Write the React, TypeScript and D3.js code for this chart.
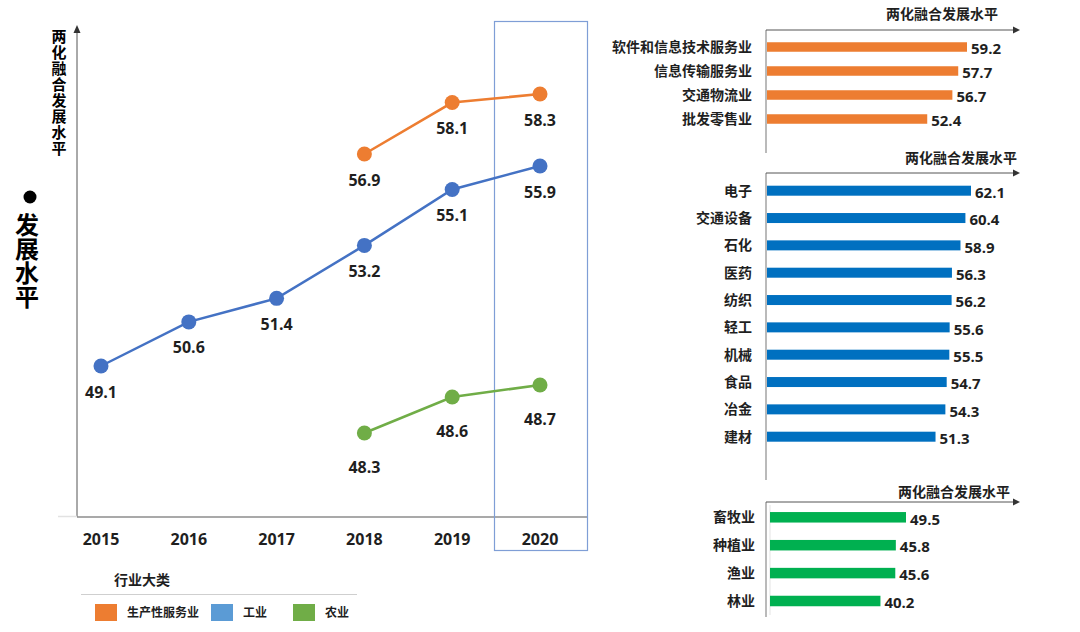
import React from "react";
import * as d3 from "d3";

// ---- Left chart data ----
const years = ["2015", "2016", "2017", "2018", "2019", "2020"];
const industryYears = ["2015", "2016", "2017", "2018", "2019", "2020"];
const industryValues = [49.1, 50.6, 51.4, 53.2, 55.1, 55.9];
const laterYears = ["2018", "2019", "2020"];
const serviceValues = [56.9, 58.1, 58.3];
const agriValues = [48.3, 48.6, 48.7];
const legendItems = ["生产性服务业", "工业", "农业"];
const yAxisTitle = "两化融合发展水平";
const sideTitle = "发展水平";
const legendTitle = "行业大类";

// ---- Right bar charts data ----
const barTitle = "两化融合发展水平";
const serviceCats = ["软件和信息技术服务业", "信息传输服务业", "交通物流业", "批发零售业"];
const serviceBarValues = [59.2, 57.7, 56.7, 52.4];
const industryCats = ["电子", "交通设备", "石化", "医药", "纺织", "轻工", "机械", "食品", "冶金", "建材"];
const industryBarValues = [62.1, 60.4, 58.9, 56.3, 56.2, 55.6, 55.5, 54.7, 54.3, 51.3];
const agriCats = ["畜牧业", "种植业", "渔业", "林业"];
const agriBarValues = [49.5, 45.8, 45.6, 40.2];

const ORANGE = "#ED7D31";
const BLUE = "#4472C4";
const GREEN = "#70AD47";
const FONT = "'Open Sans', 'Noto Sans CJK SC', sans-serif";
const TXT = "#1f1f1f";

type Pt = { year: string; value: number };

function zip(ys: string[], vs: number[]): Pt[] {
  return ys.map((y, i) => ({ year: y, value: vs[i] }));
}

function BarPanel(props: {
  cats: string[];
  values: number[];
  color: string;
  domain: [number, number];
  xRange: [number, number];
  yRange: [number, number];
  barH: number;
  axisX: number;
  axisTop: number;
  axisBottom: number;
  labelRight: number;
  titleX: number;
  titleY: number;
  innerLine?: boolean;
}) {
  const x = d3.scaleLinear().domain(props.domain).range(props.xRange);
  const y = d3.scalePoint<string>().domain(props.cats).range(props.yRange);
  const arrowEnd = 1020;
  return (
    <g>
      <text x={props.titleX} y={props.titleY} textAnchor="middle" fontSize={14} fontWeight="bold" fill={TXT} fontFamily={FONT}>
        {barTitle}
      </text>
      <line x1={props.axisX} x2={props.axisX} y1={props.axisTop} y2={props.axisBottom} stroke="#8c8c8c" strokeWidth={1.2} />
      <line x1={props.axisX} x2={arrowEnd - 6} y1={props.axisTop} y2={props.axisTop} stroke="#555" strokeWidth={1} />
      <path d={`M${arrowEnd},${props.axisTop} L${arrowEnd - 7},${props.axisTop - 3.5} L${arrowEnd - 7},${props.axisTop + 3.5} Z`} fill="#333" />
      {props.innerLine && (
        <line x1={props.xRange[0]} x2={props.xRange[0]} y1={props.axisTop + 3} y2={props.axisBottom - 2} stroke="#e3e3e3" strokeWidth={1} />
      )}
      {props.cats.map((c, i) => {
        const cy = y(c) as number;
        const v = props.values[i];
        return (
          <g key={c}>
            <text x={props.labelRight} y={cy} dy="0.35em" textAnchor="end" fontSize={14} fontWeight="bold" fill={TXT} fontFamily={FONT}>
              {c}
            </text>
            <rect x={x(props.domain[0])} y={cy - props.barH / 2} width={x(v) - x(props.domain[0])} height={props.barH} fill={props.color} />
            <text x={x(v) + 4} y={cy + 2} dy="0.35em" fontSize={15} fontWeight="bold" fill={TXT} fontFamily={FONT}>
              {v.toFixed(1)}
            </text>
          </g>
        );
      })}
    </g>
  );
}

export default function App() {
  const x = d3.scalePoint<string>().domain(years).range([101, 540]);
  // Each series is drawn against its own value scale, as in the original infographic.
  const yService = d3.scaleLinear().domain([56.9, 58.3]).range([154, 94]);
  const yIndustry = d3.scaleLinear().domain([49.1, 55.9]).range([366, 166]);
  const yAgri = d3.scaleLinear().domain([48.3, 48.7]).range([433, 385]);

  const series = [
    { name: legendItems[0], color: ORANGE, data: zip(laterYears, serviceValues), y: yService, labelOffset: 26 },
    { name: legendItems[1], color: BLUE, data: zip(industryYears, industryValues), y: yIndustry, labelOffset: 26 },
    { name: legendItems[2], color: GREEN, data: zip(laterYears, agriValues), y: yAgri, labelOffset: 34 },
  ];
  const legendColors = [ORANGE, "#5B9BD5", GREEN];
  const legendX = [95, 211, 293];

  return (
    <svg
      width={1080}
      height={632}
      style={{ position: "fixed", left: 0, top: 0, background: "#fff" }}
      fontFamily={FONT}
    >
      <rect x={0} y={0} width={1080} height={632} fill="#fff" />

      {/* Side title */}
      <circle cx={30} cy={197} r={6.5} fill="#000" />
      <text
        x={26}
        y={213}
        fontSize={24}
        fontWeight="bold"
        fill="#000"
        fontFamily={FONT}
        style={{ writingMode: "vertical-rl" }}
      >
        {sideTitle}
      </text>

      {/* Y axis title, vertical */}
      <text
        x={58.5}
        y={29}
        fontSize={15}
        fontWeight="bold"
        fill="#000"
        fontFamily={FONT}
        letterSpacing={1}
        style={{ writingMode: "vertical-rl" }}
      >
        {yAxisTitle}
      </text>

      {/* Axes */}
      <line x1={77} x2={77} y1={517} y2={32} stroke="#555" strokeWidth={1} />
      <path d="M77,25 L73.5,33 L80.5,33 Z" fill="#333" />
      <line x1={58} x2={77} y1={516.5} y2={516.5} stroke="#e2e2e2" strokeWidth={1.5} />
      <line x1={77} x2={587} y1={517} y2={517} stroke="#8c8c8c" strokeWidth={1.5} />

      {/* Highlight box */}
      <rect x={494.5} y={21.5} width={93} height={529} fill="none" stroke="#7f9ed6" strokeWidth={1.2} />

      {/* X labels */}
      {years.map((yr) => (
        <text key={yr} x={x(yr) as number} y={539} dy="0.35em" textAnchor="middle" fontSize={16} fontWeight="bold" fill={TXT} fontFamily={FONT}>
          {yr}
        </text>
      ))}

      {/* Lines */}
      {series.map((s) => {
        const line = d3
          .line<Pt>()
          .x((d) => x(d.year) as number)
          .y((d) => s.y(d.value));
        return <path key={s.name} d={line(s.data) || ""} fill="none" stroke={s.color} strokeWidth={2.5} />;
      })}
      {series.map((s) =>
        s.data.map((d) => (
          <g key={s.name + d.year}>
            <circle cx={x(d.year) as number} cy={s.y(d.value)} r={7.5} fill={s.color} />
            <text x={x(d.year) as number} y={s.y(d.value) + s.labelOffset} dy="0.35em" textAnchor="middle" fontSize={16} fontWeight="bold" fill={TXT} fontFamily={FONT}>
              {d.value.toFixed(1)}
            </text>
          </g>
        ))
      )}

      {/* Legend */}
      <text x={142} y={580} dy="0.35em" textAnchor="middle" fontSize={14} fontWeight="bold" fill={TXT} fontFamily={FONT}>
        {legendTitle}
      </text>
      <line x1={81} x2={357} y1={594.5} y2={594.5} stroke="#cfcfcf" strokeWidth={1.2} />
      {legendItems.map((name, i) => (
        <g key={name}>
          <rect x={legendX[i]} y={604} width={22} height={17} fill={legendColors[i]} />
          <text x={legendX[i] + 32} y={613} dy="0.35em" fontSize={12} fontWeight="bold" fill={TXT} fontFamily={FONT}>
            {name}
          </text>
        </g>
      ))}

      {/* Right panels */}
      <BarPanel
        cats={serviceCats}
        values={serviceBarValues}
        color={ORANGE}
        domain={[25, 59.2]}
        xRange={[767, 967]}
        yRange={[47, 119]}
        barH={9.5}
        axisX={766}
        axisTop={30}
        axisBottom={153}
        labelRight={752}
        titleX={942}
        titleY={19}
      />
      <BarPanel
        cats={industryCats}
        values={industryBarValues}
        color="#0070C0"
        domain={[0, 62.1]}
        xRange={[767, 971]}
        yRange={[190.7, 436.7]}
        barH={10}
        axisX={766}
        axisTop={173}
        axisBottom={480}
        labelRight={752}
        titleX={961}
        titleY={163}
      />
      <BarPanel
        cats={agriCats}
        values={agriBarValues}
        color="#00B050"
        domain={[0, 49.5]}
        xRange={[770, 906]}
        yRange={[517.3, 601]}
        barH={10.5}
        axisX={766}
        axisTop={502}
        axisBottom={617}
        labelRight={755}
        titleX={954}
        titleY={497}
        innerLine
      />
    </svg>
  );
}
